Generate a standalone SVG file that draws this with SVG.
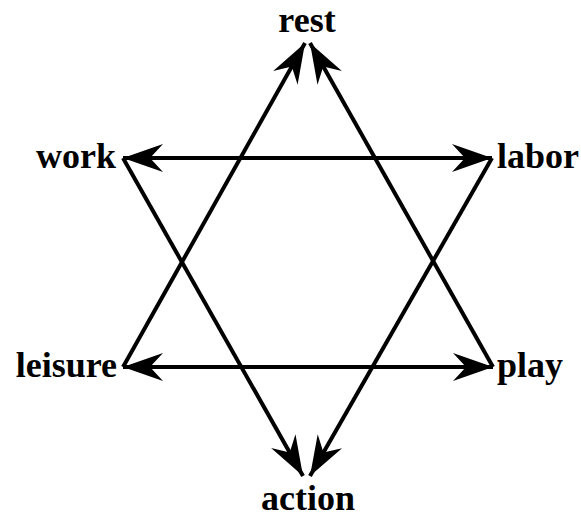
<svg xmlns="http://www.w3.org/2000/svg" width="581" height="522" viewBox="0 0 581 522">
<style>
.lbl{font-family:"Liberation Serif","Times New Roman",serif;font-weight:bold;font-size:36px;fill:#000}
.ln{stroke:#000;stroke-width:4;fill:none}
</style>
<defs>
<marker id="ah" viewBox="-42 -16 44 32" refX="0" refY="0" markerWidth="44" markerHeight="32" markerUnits="userSpaceOnUse" orient="auto-start-reverse">
<path d="M0,0 L-40,-14 L-27,0 L-40,14 Z" fill="#000"/>
</marker>
</defs>
<rect width="581" height="522" fill="#fff"/>
<g id="connectors">
<line class="ln" x1="123" y1="158" x2="492" y2="158" marker-start="url(#ah)" marker-end="url(#ah)"/>
<line class="ln" x1="123" y1="367" x2="493" y2="367" marker-start="url(#ah)" marker-end="url(#ah)"/>
<line class="ln" x1="123" y1="367" x2="305" y2="43" marker-end="url(#ah)"/>
<line class="ln" x1="493" y1="367" x2="310" y2="43" marker-end="url(#ah)"/>
<line class="ln" x1="123" y1="158" x2="303" y2="476" marker-end="url(#ah)"/>
<line class="ln" x1="492" y1="158" x2="310" y2="476" marker-end="url(#ah)"/>
</g>
<g id="rest"><text class="lbl" x="307" y="32" text-anchor="middle">rest</text></g>
<g id="work"><text class="lbl" x="116" y="168" text-anchor="end">work</text></g>
<g id="labor"><text class="lbl" x="497" y="168">labor</text></g>
<g id="leisure"><text class="lbl" x="117" y="377" text-anchor="end">leisure</text></g>
<g id="play"><text class="lbl" x="497" y="377">play</text></g>
<g id="action"><text class="lbl" x="308" y="510" text-anchor="middle">action</text></g>
</svg>
